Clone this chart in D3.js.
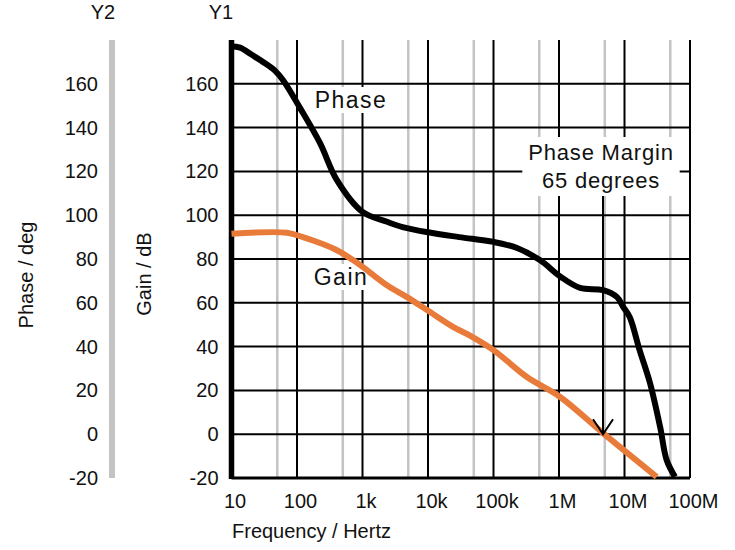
<!DOCTYPE html>
<html>
<head>
<meta charset="utf-8">
<script src="https://cdn.jsdelivr.net/npm/d3@7"></script>
<style>
  body { margin: 0; background: #fff; }
  text { font-family: "Liberation Sans", Arial, sans-serif; fill: #111; }
</style>
</head>
<body>
<div id="chart"></div>
<script>
// Bode plot values
var phaseFreq = [10, 13.5, 21, 32, 46, 61, 111, 224, 407, 1000, 2370, 4100, 10000, 30000, 100000, 229000, 510000, 1.07e6, 2.1e6, 4.7e6, 7.7e6, 9.6e6, 12e6, 17e6, 24.5e6, 35e6, 44e6, 59e6];
var phaseVal  = [177, 176.5, 173, 169.5, 166, 161.7, 149, 133, 116, 101.5, 97, 94.6, 92.2, 90, 87.8, 85, 79.5, 71.8, 66.8, 65.8, 62.6, 58, 53.5, 38.4, 23.4, 3.3, -11.8, -19.5];

var gainFreq = [10, 70, 123, 224, 407, 716, 1018, 2366, 4777, 9660, 24100, 43800, 100000, 324000, 1.04e6, 4.7e6, 31e6];
var gainVal  = [91.5, 92, 90, 87.3, 84, 79.5, 76.3, 68, 62.6, 56.7, 49, 45, 38.4, 26.1, 17, 0.5, -19.5];

var decades = [10, 100, 1e3, 1e4, 1e5, 1e6, 1e7, 1e8];
var decadeLabels = ["10", "100", "1k", "10k", "100k", "1M", "10M", "100M"];
var halfDecades = [50, 500, 5e3, 5e4, 5e5, 5e6, 5e7];
var yTicks = [-20, 0, 20, 40, 60, 80, 100, 120, 140, 160];

var marginFreq = 4.7e6;   // phase margin marker at 0 dB

var width = 735, height = 550;
var svg = d3.select("#chart").append("svg")
    .attr("width", width)
    .attr("height", height);

var x = d3.scaleLog().domain([10, 1e8]).range([231.5, 690]);
var y = d3.scaleLinear().domain([-20, 180]).range([478, 40]);

// grid: light grey at 5x, black at decades and every 20
svg.append("g").selectAll("line")
    .data(halfDecades).enter().append("line")
    .attr("x1", d => x(d)).attr("x2", d => x(d))
    .attr("y1", y(180)).attr("y2", y(-20))
    .attr("stroke", "#c4c4c4").attr("stroke-width", 2.5);

svg.append("g").selectAll("line")
    .data(decades.slice(1)).enter().append("line")
    .attr("x1", d => x(d)).attr("x2", d => x(d))
    .attr("y1", y(180)).attr("y2", y(-20))
    .attr("stroke", "#000").attr("stroke-width", 2);

svg.append("g").selectAll("line")
    .data(yTicks.slice(1)).enter().append("line")
    .attr("x1", x(10)).attr("x2", x(1e8))
    .attr("y1", d => y(d)).attr("y2", d => y(d))
    .attr("stroke", "#000").attr("stroke-width", 2);

// bottom and left axis lines
svg.append("line")
    .attr("x1", x(10)).attr("x2", x(1e8))
    .attr("y1", y(-20)).attr("y2", y(-20))
    .attr("stroke", "#000").attr("stroke-width", 3);
svg.append("line")
    .attr("x1", x(10)).attr("x2", x(10))
    .attr("y1", y(180)).attr("y2", y(-20) + 1)
    .attr("stroke", "#000").attr("stroke-width", 5.5);

// Y2 grey bar
svg.append("line")
    .attr("x1", 112).attr("x2", 112)
    .attr("y1", y(180)).attr("y2", y(-20))
    .attr("stroke", "#c4c4c4").attr("stroke-width", 6);

// axes (labels only)
function styleAxis(g) {
    g.select(".domain").remove();
    g.selectAll("text").style("font-size", "20px")
        .style("font-family", "'Liberation Sans', Arial, sans-serif").attr("fill", "#111");
}
svg.append("g").attr("transform", "translate(" + x(10) + ",0)")
    .call(d3.axisLeft(y).tickValues(yTicks).tickSize(0).tickPadding(13).tickFormat(d => String(d)))
    .call(styleAxis);
svg.append("g").attr("transform", "translate(112,0)")
    .call(d3.axisLeft(y).tickValues(yTicks).tickSize(0).tickPadding(14).tickFormat(d => String(d)))
    .call(styleAxis);
svg.append("g").attr("transform", "translate(0," + y(-20) + ")")
    .call(d3.axisBottom(x).tickValues(decades).tickSize(0).tickPadding(16)
        .tickFormat((d, i) => decadeLabels[i]))
    .call(styleAxis)
    .selectAll("text").attr("dx", 3);

// titles
function label(txt, px, py, size, rot, anchor) {
    return svg.append("text")
        .attr("transform", "translate(" + px + "," + py + ")" + (rot ? " rotate(" + rot + ")" : ""))
        .attr("text-anchor", anchor || "middle")
        .style("font-size", size + "px")
        .text(txt);
}
label("Y2", 103, 19, 20);
label("Y1", 221, 19, 20);
label("Phase / deg", 33, 275, 20, -90);
label("Gain / dB", 151, 274, 20, -90);
label("Frequency / Hertz", 232, 538, 20, 0, "start");

// boxed labels (white box hides the grid, curves go on top)
function boxLabel(lines, cx, baselines, size, spacing, padX, padY) {
    var g = svg.append("g");
    var rect = g.append("rect").attr("fill", "#fff");
    var t = g.append("text").attr("text-anchor", "middle")
        .style("font-size", size + "px").style("letter-spacing", spacing + "px");
    lines.forEach(function(s, i) {
        t.append("tspan").attr("x", cx).attr("y", baselines[i]).text(s);
    });
    var bb = t.node().getBBox();
    rect.attr("x", bb.x - padX).attr("y", bb.y - padY)
        .attr("width", bb.width + 2 * padX).attr("height", bb.height + 2 * padY);
}
boxLabel(["Phase"], 351, [108], 23, 1.5, 8, 0);
boxLabel(["Gain"], 341, [285], 23, 1.5, 8, 0);
boxLabel(["Phase Margin", "65 degrees"], 601, [160, 188], 22, 0.8, 6, 3);

// curves
var line = d3.line().curve(d3.curveCatmullRom.alpha(0.5));
var gainPts = gainFreq.map((f, i) => [x(f), y(gainVal[i])]);
var phasePts = phaseFreq.map((f, i) => [x(f), y(phaseVal[i])]);

svg.append("path").attr("d", line(gainPts))
    .attr("fill", "none").attr("stroke", "#E97B3A").attr("stroke-width", 6);
svg.append("path").attr("d", line(phasePts))
    .attr("fill", "none").attr("stroke", "#000").attr("stroke-width", 6)
    .attr("stroke-linejoin", "round");

// phase margin arrow
var ax = x(marginFreq);
svg.append("line")
    .attr("x1", ax).attr("x2", ax).attr("y1", 196).attr("y2", y(0))
    .attr("stroke", "#000").attr("stroke-width", 2);
svg.append("path")
    .attr("d", "M" + (ax - 10) + "," + (y(0) - 15) + "L" + ax + "," + y(0) + "L" + (ax + 10) + "," + (y(0) - 15))
    .attr("fill", "none").attr("stroke", "#000").attr("stroke-width", 2);
</script>
</body>
</html>
